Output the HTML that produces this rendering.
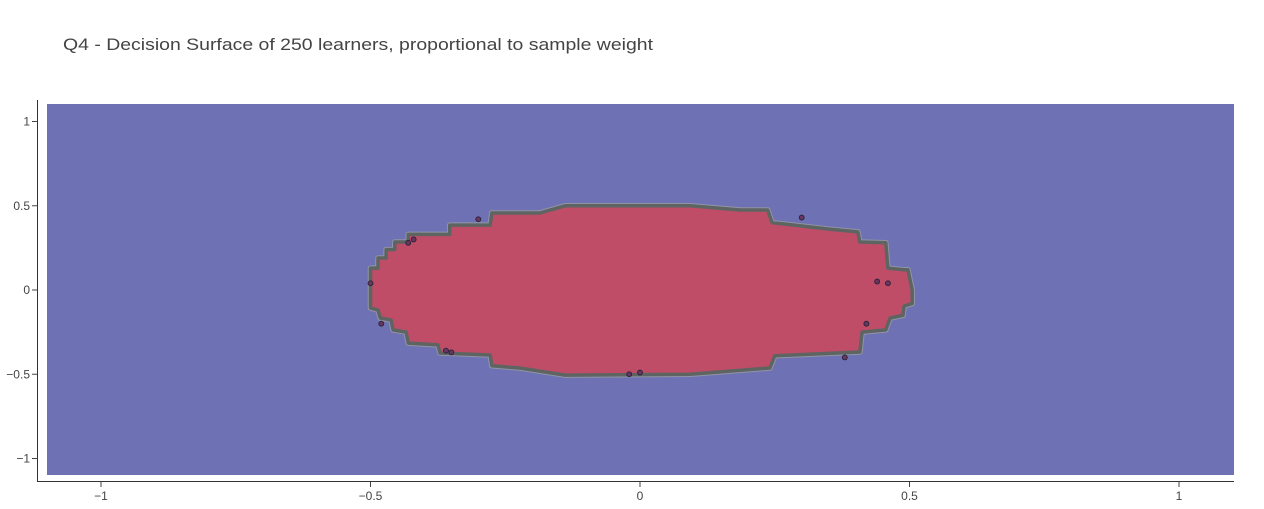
<!DOCTYPE html>
<html><head><meta charset="utf-8"><style>
body{margin:0;background:#fff;font-family:"Liberation Sans",sans-serif;}
svg text{font-family:"Liberation Sans",sans-serif;}
</style></head><body>
<svg width="1264" height="504" xmlns="http://www.w3.org/2000/svg">
<text x="63" y="50" font-size="17" textLength="590" lengthAdjust="spacingAndGlyphs" fill="#444">Q4 - Decision Surface of 250 learners, proportional to sample weight</text>
<rect x="47" y="104" width="1187" height="371" fill="#6e72b4"/>
<g id="marks"></g>
<line x1="37.5" y1="100" x2="37.5" y2="481" stroke="#333"/>
<line x1="37" y1="481.5" x2="1234" y2="481.5" stroke="#333"/>
<g id="axes" font-size="12" fill="#444"></g>
</svg>
<script>
const boundaryX=[-0.50,-0.50,-0.486,-0.486,-0.471,-0.471,-0.455,-0.455,-0.43,-0.43,-0.353,-0.353,-0.278,-0.275,-0.186,-0.139,0.093,0.186,0.237,0.245,0.353,0.404,0.408,0.456,0.46,0.49,0.497,0.505,
0.505,0.49,0.488,0.464,0.456,0.412,0.408,0.25,0.241,0.093,-0.139,-0.223,-0.275,-0.278,-0.371,-0.375,-0.43,-0.434,-0.458,-0.462,-0.482,-0.486,-0.5];
const boundaryY=[0,0.13,0.13,0.19,0.19,0.24,0.24,0.285,0.285,0.33,0.33,0.385,0.385,0.457,0.457,0.50,0.50,0.475,0.475,0.40,0.36,0.345,0.285,0.28,0.13,0.12,0.12,0,
-0.08,-0.095,-0.15,-0.166,-0.237,-0.25,-0.368,-0.39,-0.463,-0.5,-0.505,-0.463,-0.45,-0.386,-0.374,-0.326,-0.315,-0.25,-0.237,-0.178,-0.166,-0.119,-0.107];
const pointX=[-0.42,-0.43,-0.36,-0.5,0.44,0.46,0.42,-0.35,-0.02,0.0,0.3,-0.3,0.38,-0.48];
const pointY=[0.3,0.28,-0.36,0.04,0.05,0.04,-0.2,-0.37,-0.5,-0.49,0.43,0.42,-0.4,-0.2];
const xTicks=[-1,-0.5,0,0.5,1];
const yTicks=[1,0.5,0,-0.5,-1];
const xTickLabels=["\u22121","\u22120.5","0","0.5","1"];
const yTickLabels=["1","0.5","0","\u22120.5","\u22121"];
const sx=v=>640+v*539, sy=v=>290-v*168.5;
const NS="http://www.w3.org/2000/svg";
const marks=document.getElementById('marks');
const pts=boundaryX.map((x,i)=>sx(x).toFixed(1)+","+sy(boundaryY[i]).toFixed(1)).join(" ");
const halo=document.createElementNS(NS,'polygon');
halo.setAttribute('points',pts);halo.setAttribute('fill','#bf4d67');halo.setAttribute('stroke','#a9ab9a');halo.setAttribute('stroke-opacity','0.6');halo.setAttribute('stroke-width','5.5');halo.setAttribute('stroke-linejoin','round');


marks.appendChild(halo);
const poly=document.createElementNS(NS,'polygon');
poly.setAttribute('points',pts);poly.setAttribute('fill','#bf4d67');poly.setAttribute('stroke','#5e6462');poly.setAttribute('stroke-width','3.5');poly.setAttribute('stroke-linejoin','round');


marks.appendChild(poly);
pointX.forEach((x,i)=>{const c=document.createElementNS(NS,'circle');
c.setAttribute('cx',sx(x));c.setAttribute('cy',sy(pointY[i]));c.setAttribute('r',2.5);c.setAttribute('fill','#6a3460');c.setAttribute('stroke','#223');c.setAttribute('stroke-width','0.8');


marks.appendChild(c);});
const axes=document.getElementById('axes');
xTicks.forEach((t,i)=>{const l=document.createElementNS(NS,'line');
l.setAttribute('x1',sx(t));l.setAttribute('x2',sx(t));l.setAttribute('y1',482);l.setAttribute('y2',487);l.setAttribute('stroke','#444');


axes.appendChild(l);
const tx=document.createElementNS(NS,'text');tx.setAttribute('x',sx(t));tx.setAttribute('y',500);tx.setAttribute('text-anchor','middle');tx.textContent=xTickLabels[i];


axes.appendChild(tx);});
yTicks.forEach((t,i)=>{const l=document.createElementNS(NS,'line');
l.setAttribute('x1',32);l.setAttribute('x2',37);l.setAttribute('y1',sy(t));l.setAttribute('y2',sy(t));l.setAttribute('stroke','#444');


axes.appendChild(l);
const tx=document.createElementNS(NS,'text');tx.setAttribute('x',30);tx.setAttribute('y',sy(t)+4);tx.setAttribute('text-anchor','end');tx.textContent=yTickLabels[i];


axes.appendChild(tx);});
</script>
</body></html>
